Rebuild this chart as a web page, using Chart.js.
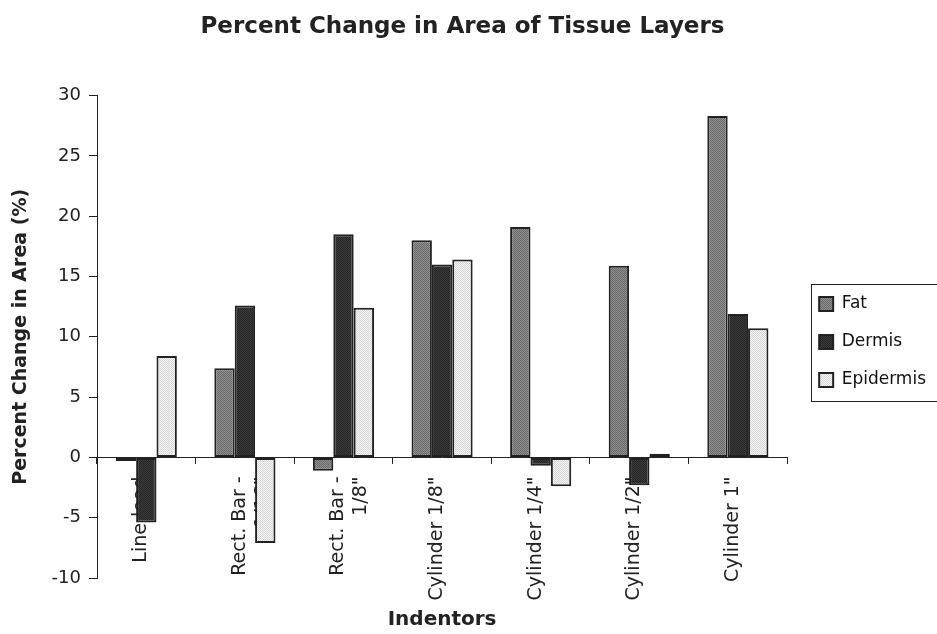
<!DOCTYPE html>
<html>
<head>
<meta charset="utf-8">
<title>Percent Change in Area of Tissue Layers</title>
<script src="https://cdn.jsdelivr.net/npm/chart.js@4/dist/chart.umd.min.js"></script>
<style>
  html, body { margin: 0; padding: 0; background: #fff; }
  #wrap { width: 937px; height: 634px; }
</style>
</head>
<body>
<div id="wrap"><canvas id="tissueChart" width="937" height="634"></canvas></div>
<script>
const INDENTORS = ['Line load', ['Rect. Bar -', '1/16"'], ['Rect. Bar -', '1/8"'], 'Cylinder 1/8"', 'Cylinder 1/4"', 'Cylinder 1/2"', 'Cylinder 1"'];
const FAT = [-0.3, 7.4, -1.1, 18.0, 19.1, 15.9, 28.3];
const DERMIS = [-5.4, 12.6, 18.5, 16.0, -0.7, -2.3, 11.9];
const EPIDERMIS = [8.4, -7.1, 12.4, 16.4, -2.4, 0.3, 10.7];
const Y_MIN = -10, Y_MAX = 30, Y_STEP = 5;

const INK = '#222';
const LEGEND_DX = 11, LEGEND_DY = 25;

// stippled fills like the old printout
function stipple(base, dot) {
    const c = document.createElement('canvas');
    c.width = 2; c.height = 2;
    const g = c.getContext('2d');
    g.fillStyle = base; g.fillRect(0, 0, 2, 2);
    g.fillStyle = dot; g.fillRect(0, 0, 1, 1); g.fillRect(1, 1, 1, 1);
    return g.createPattern(c, 'repeat');
}

Chart.defaults.font.family = "'DejaVu Sans', 'Liberation Sans', sans-serif";
Chart.defaults.color = INK;

// legend box with a frame, set off from the plot like the original
const legendFrame = {
    id: 'legendFrame',
    afterLayout(chart) {
        const lg = chart.legend;
        lg.left += LEGEND_DX; lg.right += LEGEND_DX;
        lg.top += LEGEND_DY; lg.bottom += LEGEND_DY;
    },
    afterDraw(chart) {
        const lg = chart.legend;
        const hb = lg.legendHitBoxes;
        if (!hb || !hb.length) return;
        const ctx = chart.ctx;
        const last = hb[hb.length - 1];
        // hit boxes already follow the moved legend
        const top = Math.round(hb[0].top - 12);
        const bottom = Math.round(last.top + last.height + 12);
        ctx.save();
        ctx.strokeStyle = INK;
        ctx.lineWidth = 1;
        ctx.strokeRect(Math.round(lg.left + 13) + 0.5, top + 0.5, chart.width, bottom - top);
        ctx.restore();
    }
};

const ctx = document.getElementById('tissueChart').getContext('2d');
new Chart(ctx, {
    type: 'bar',
    data: {
        labels: INDENTORS,
        datasets: [
            { label: 'Fat', data: FAT, backgroundColor: stipple('#8f8f8f', '#6a6a6a') },
            { label: 'Dermis', data: DERMIS, backgroundColor: stipple('#3a3a3a', '#262626') },
            { label: 'Epidermis', data: EPIDERMIS, backgroundColor: stipple('#f4f4f4', '#d6d6d6') }
        ]
    },
    options: {
        responsive: false,
        animation: false,
        datasets: {
            bar: {
                borderColor: INK,
                borderWidth: 2,
                borderSkipped: false,
                categoryPercentage: 0.62,
                barPercentage: 1.0
            }
        },
        layout: { padding: { left: 0, right: 12, top: 0, bottom: 0 } },
        plugins: {
            title: {
                display: true,
                text: 'Percent Change in Area of Tissue Layers',
                font: { size: 23, weight: 'bold' },
                color: INK,
                padding: { top: 13, bottom: 55 }
            },
            legend: {
                position: 'right',
                labels: {
                    boxWidth: 14,
                    boxHeight: 14,
                    padding: 21,
                    color: '#111',
                    font: { size: 17 }
                }
            },
            tooltip: { enabled: false }
        },
        scales: {
            x: {
                position: { y: 0 },
                grid: { drawOnChartArea: false, tickLength: 6, color: INK },
                border: { display: true, color: INK, width: 1 },
                ticks: {
                    minRotation: 90,
                    maxRotation: 90,
                    autoSkip: false,
                    padding: 13,
                    labelOffset: -5,
                    color: INK,
                    font: { size: 19 }
                }
            },
            x2: {
                type: 'category',
                labels: INDENTORS,
                position: 'bottom',
                grid: { display: false, drawTicks: false },
                border: { display: false },
                ticks: { display: false },
                title: {
                    display: true,
                    text: 'Indentors',
                    color: INK,
                    font: { size: 20, weight: 'bold' },
                    padding: { top: 30, bottom: 2 }
                }
            },
            y: {
                min: Y_MIN,
                max: Y_MAX,
                afterFit(scale) { scale.width = 97; },
                ticks: {
                    stepSize: Y_STEP,
                    padding: 8,
                    color: INK,
                    font: { size: 18 }
                },
                grid: { drawOnChartArea: false, tickLength: 8, color: INK },
                border: { display: true, color: INK, width: 1 },
                title: {
                    display: true,
                    text: 'Percent Change in Area (%)',
                    color: INK,
                    font: { size: 19, weight: 'bold' },
                    padding: { top: 10, bottom: 0 }
                }
            }
        }
    },
    plugins: [legendFrame]
});
</script>
</body>
</html>
